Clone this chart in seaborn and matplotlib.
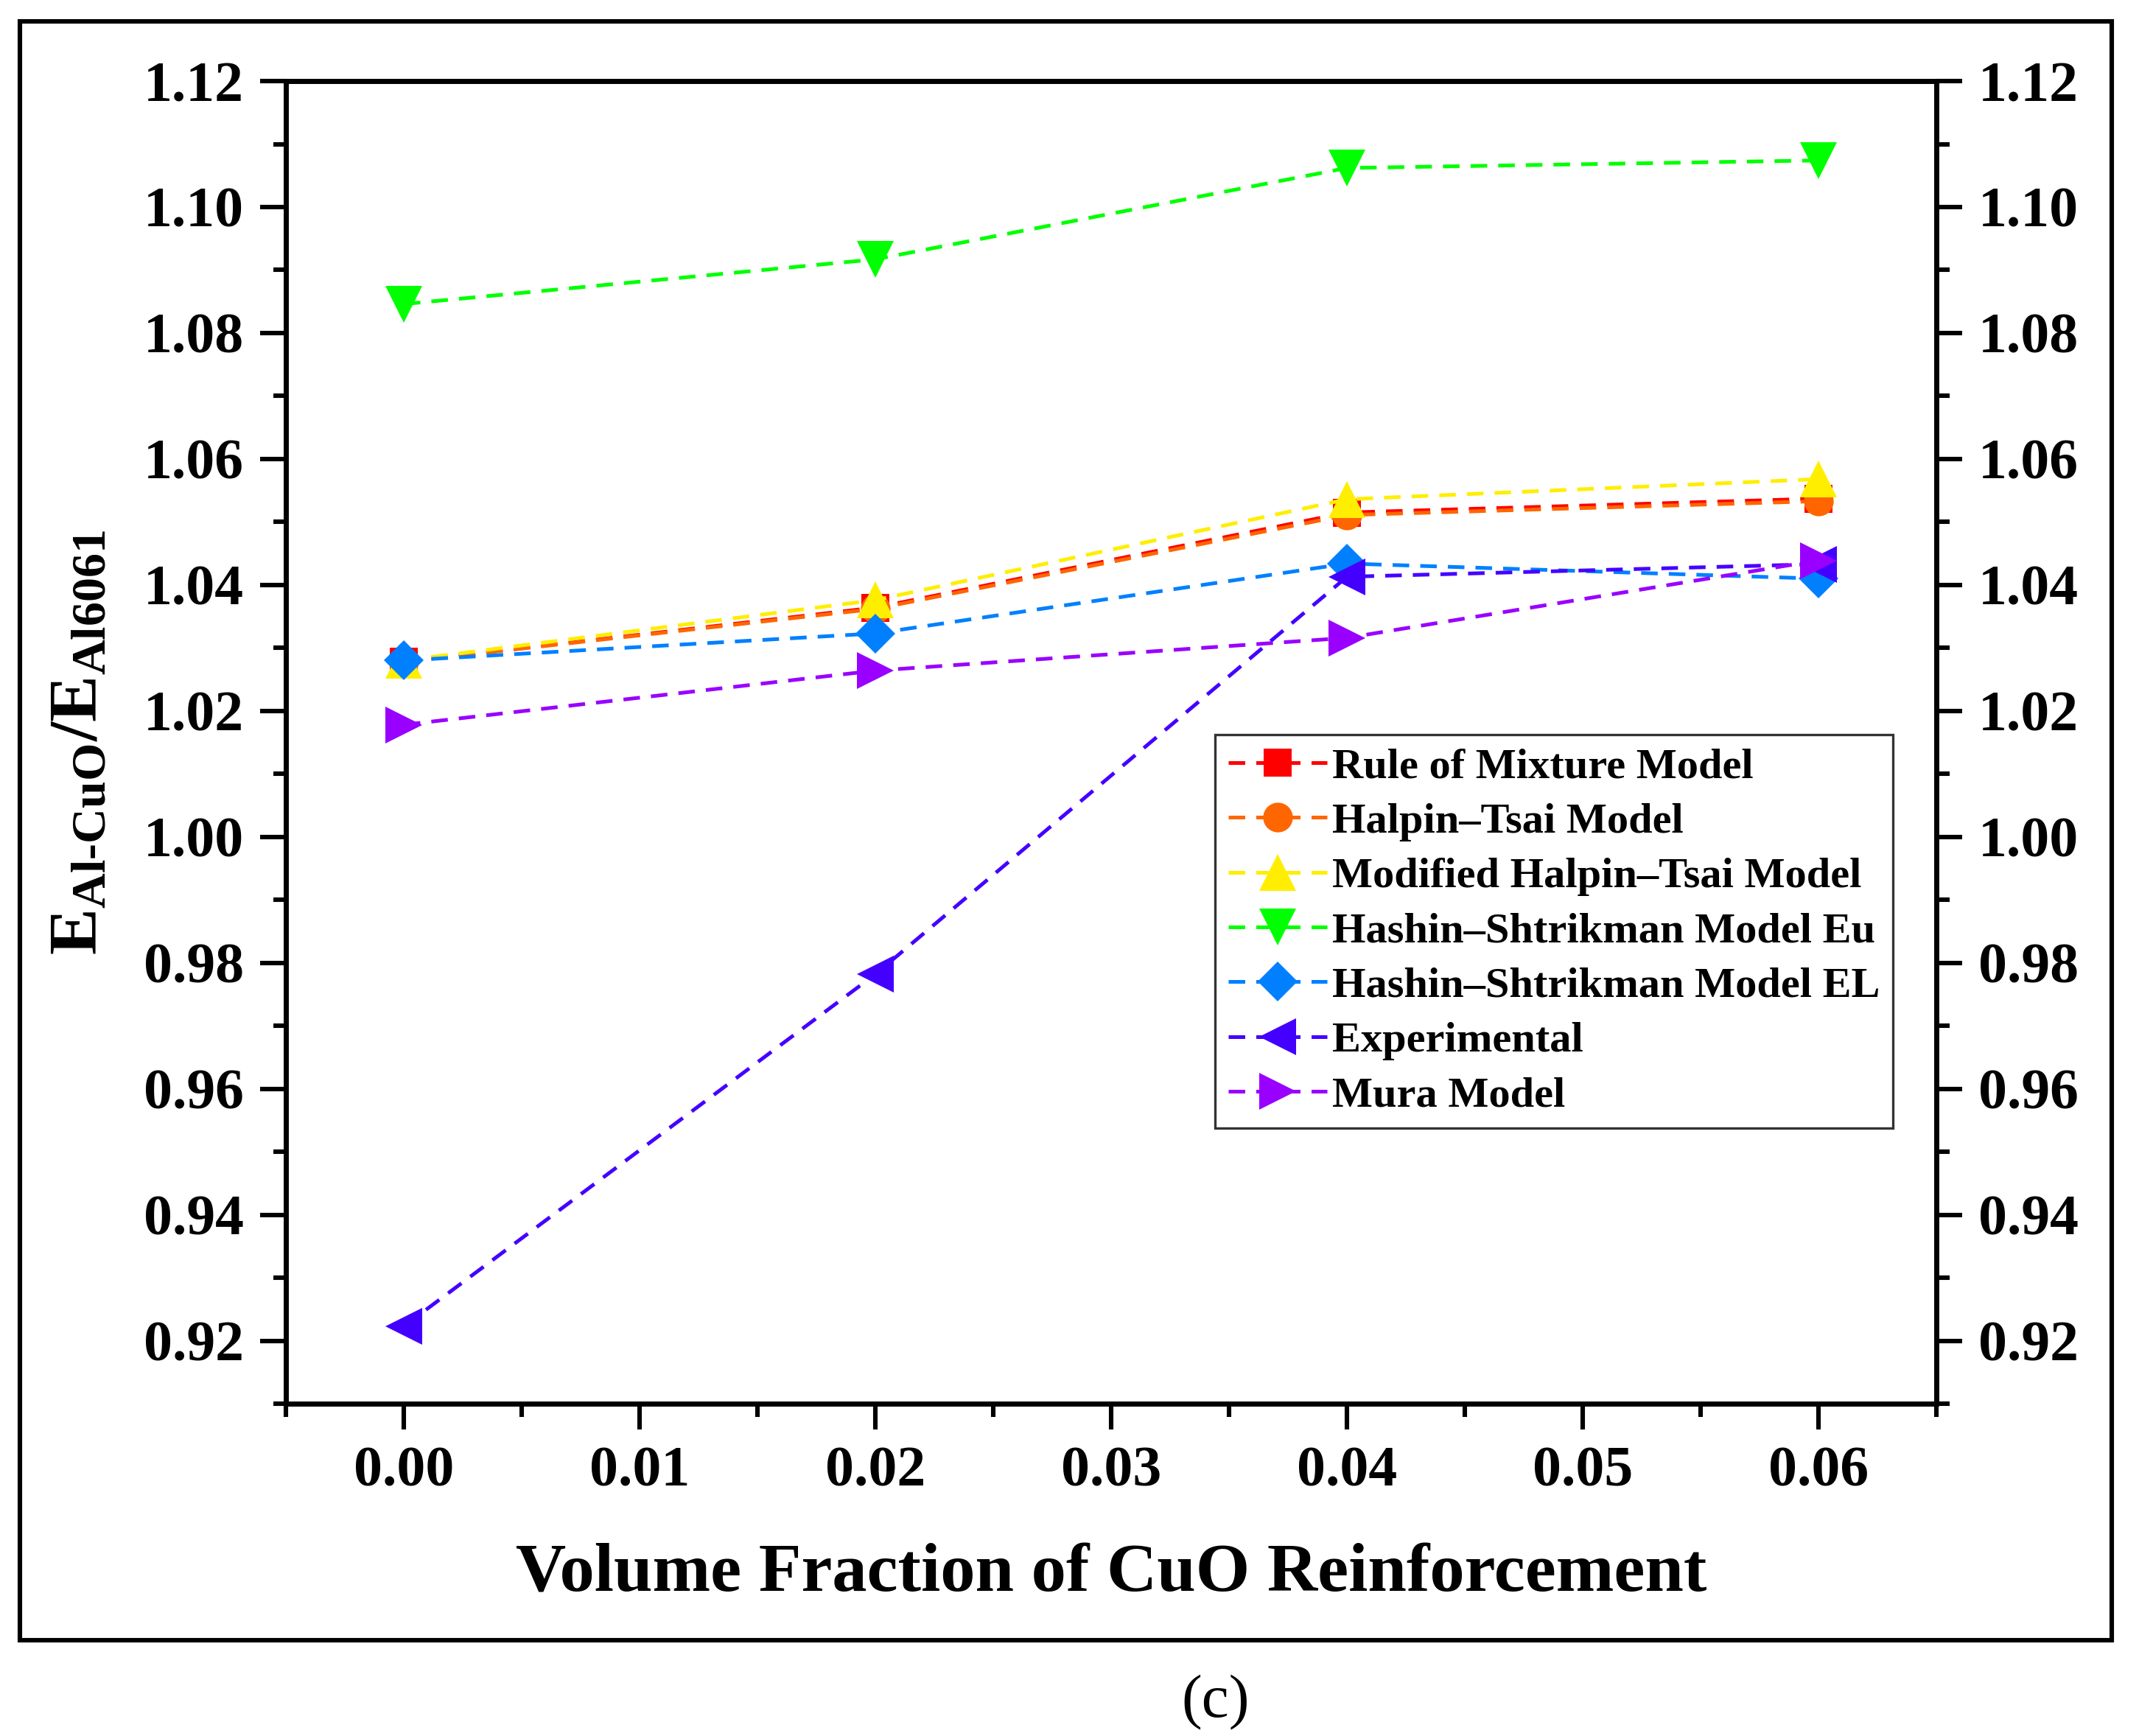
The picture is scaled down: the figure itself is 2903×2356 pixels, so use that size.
import numpy as np
import pandas as pd
import seaborn as sns
import matplotlib.pyplot as plt
from matplotlib.patches import Rectangle
from matplotlib.ticker import MultipleLocator

# Data
vol_frac = [0.00, 0.02, 0.04, 0.06]
rule_of_mixture = [1.0278, 1.0364, 1.0515, 1.0537]
halpin_tsai = [1.0278, 1.0362, 1.0511, 1.0533]
mod_halpin_tsai = [1.0280, 1.0376, 1.0536, 1.0568]
hs_upper = [1.0846, 1.0917, 1.1062, 1.1074]
hs_lower = [1.0280, 1.0323, 1.0434, 1.0410]
experimental = [0.9223, 0.9782, 1.0413, 1.0433]
mura = [1.0178, 1.0264, 1.0316, 1.0439]

series = [
    ("Rule of Mixture Model", rule_of_mixture, "#FF0000", "s", 13.5),
    ("Halpin\u2013Tsai Model", halpin_tsai, "#FF6600", "o", 14.5),
    ("Modified Halpin\u2013Tsai Model", mod_halpin_tsai, "#FFEE00", "^", 18),
    ("Hashin\u2013Shtrikman Model Eu", hs_upper, "#00FF00", "v", 18),
    ("Hashin\u2013Shtrikman Model EL", hs_lower, "#0080FF", "D", 13.5),
    ("Experimental", experimental, "#4400FF", "<", 18),
    ("Mura Model", mura, "#9900FF", ">", 18),
]

sns.set_style("ticks")
plt.rcParams['font.family'] = ['Liberation Serif', 'DejaVu Serif']
plt.rcParams['font.weight'] = 'bold'
plt.rcParams['text.color'] = 'black'
plt.rcParams['axes.labelcolor'] = 'black'
plt.rcParams['mathtext.fontset'] = 'custom'
plt.rcParams['mathtext.rm'] = 'Liberation Serif:bold'
plt.rcParams['mathtext.it'] = 'Liberation Serif:bold'
plt.rcParams['mathtext.bf'] = 'Liberation Serif:bold'

fig = plt.figure(figsize=(14.515, 11.78), dpi=200)
ax = fig.add_axes([0.1337, 0.1914, 0.9053 - 0.1337, 0.9533 - 0.1914])

for name, vals, col, mk, ms in series:
    df = pd.DataFrame({"x": vol_frac, "y": vals})
    sns.lineplot(data=df, x="x", y="y", ax=ax, color=col, marker=mk,
                 markersize=ms, markeredgewidth=0, linewidth=1.8,
                 linestyle="--", dashes=False, label=name, sort=False,
                 errorbar=None)
    ax.get_lines()[-1].set_dashes((4.5, 3))

ax.set_xlim(-0.005, 0.065)
ax.set_ylim(0.91, 1.12)
ax.xaxis.set_major_locator(MultipleLocator(0.01))
ax.xaxis.set_minor_locator(MultipleLocator(0.005))
ax.yaxis.set_major_locator(MultipleLocator(0.02))
ax.yaxis.set_minor_locator(MultipleLocator(0.01))
ax.xaxis.set_major_formatter(plt.FormatStrFormatter('%.2f'))
ax.yaxis.set_major_formatter(plt.FormatStrFormatter('%.2f'))

for sp in ax.spines.values():
    sp.set_linewidth(2.5)
    sp.set_color('black')
ax.tick_params(which='major', length=12.5, width=2.2, labelsize=28,
               direction='out', right=True, labelright=True, top=False,
               pad=8, colors='black')
ax.tick_params(which='minor', length=6.3, width=2.2, direction='out',
               right=True, top=False, colors='black')

ax.set_xlabel("Volume Fraction of CuO Reinforcement", fontsize=34,
              fontweight='bold', labelpad=22)
ax.set_ylabel(r'$\mathrm{E_{Al\text{-}CuO}/E_{Al6061}}$', fontsize=34,
              labelpad=16)

leg = ax.legend(loc='upper left', bbox_to_anchor=(0.563, 0.506),
                fontsize=21, frameon=True, fancybox=False, edgecolor='black',
                handlelength=2.3, handletextpad=0.12, labelspacing=0.37,
                borderpad=0.3, borderaxespad=0)
leg.get_frame().set_linewidth(1.2)
for t in leg.get_texts():
    t.set_fontweight('bold')

# outer frame and panel letter
fig.patches.append(Rectangle((27 / 2903, 1 - 2226 / 2356),
                             (2866 - 27) / 2903, (2226 - 29) / 2356,
                             transform=fig.transFigure, fill=False,
                             edgecolor='black', linewidth=2.2))
fig.text(1650 / 2903, 1 - 2311 / 2356, "(c)", fontsize=30,
         fontweight='normal', ha='center', va='center')

fig.savefig("out.png", dpi=200, facecolor='white')
